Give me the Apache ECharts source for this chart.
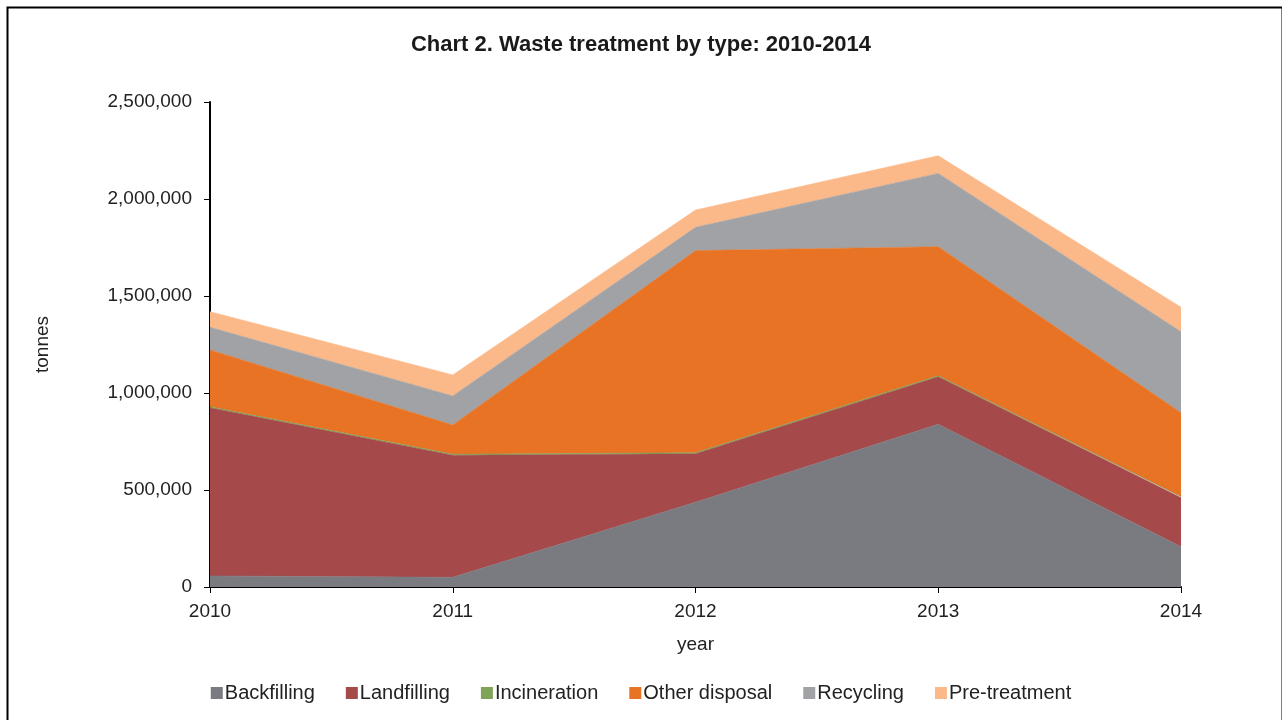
<!DOCTYPE html>
<html>
<head>
<meta charset="utf-8">
<script src="https://cdn.jsdelivr.net/npm/echarts@6/dist/echarts.min.js"></script>
<style>
html,body{margin:0;padding:0;background:#fff;}
#chart{width:1282px;height:720px;}
</style>
</head>
<body>
<div id="chart"></div>
<script>
const years = ['2010', '2011', '2012', '2013', '2014'];
const backfilling = [57000, 50000, 437000, 839000, 208000];
const landfilling = [867000, 629000, 250000, 245000, 252000];
const incineration = [5000, 5000, 5000, 5000, 5000];
const otherDisposal = [293000, 151000, 1042000, 665000, 433000];
const recycling = [117000, 150000, 120000, 378000, 418000];
const preTreatment = [80000, 108000, 89000, 91000, 126000];
const yTicks = [0, 500000, 1000000, 1500000, 2000000, 2500000];

const font = '"Liberation Sans", Arial, sans-serif';
const chart = echarts.init(document.getElementById('chart'));

function area(name, data, color) {
  return {
    name: name, type: 'line', stack: 'total', data: data,
    showSymbol: false, symbol: 'none',
    lineStyle: { width: 0.6, color: color },
    areaStyle: { color: color, opacity: 1 },
    itemStyle: { color: color },
    emphasis: { disabled: true }
  };
}

chart.setOption({
  animation: false,
  backgroundColor: '#fff',
  graphic: [{
    type: 'rect', left: 5, top: 5,
    shape: { width: 1275, height: 720 },
    style: { fill: 'none', stroke: '#000', lineWidth: 2 }
  }],
  title: {
    text: 'Chart 2. Waste treatment by type: 2010-2014',
    left: 'center', top: 29,
    textStyle: { fontFamily: font, fontSize: 22, fontWeight: 'bold', color: '#1a1a1a' }
  },
  grid: { left: 210, right: 101, top: 102, bottom: 133 },
  legend: {
    top: 678, left: 'center',
    itemWidth: 12, itemHeight: 12, itemGap: 31,
    icon: 'rect',
    textStyle: { fontFamily: font, fontSize: 20, color: '#222', padding: [0, 0, 0, -3] },
    data: ['Backfilling', 'Landfilling', 'Incineration', 'Other disposal', 'Recycling', 'Pre-treatment']
  },
  xAxis: {
    type: 'category', data: years, boundaryGap: false,
    name: 'year', nameLocation: 'middle', nameGap: 48,
    nameTextStyle: { fontFamily: font, fontSize: 19, color: '#222' },
    axisLine: { lineStyle: { color: '#000', width: 2 } },
    axisTick: { show: true, alignWithLabel: true, length: 6, lineStyle: { color: '#000', width: 1 } },
    axisLabel: { fontFamily: font, fontSize: 19, color: '#222', margin: 15 },
    splitLine: { show: false }
  },
  yAxis: {
    type: 'value', min: 0, max: 2500000, interval: 500000,
    name: 'tonnes', nameLocation: 'middle', nameGap: 158, nameRotate: 90,
    nameTextStyle: { fontFamily: font, fontSize: 19, color: '#222' },
    axisLine: { show: true, lineStyle: { color: '#000', width: 2 } },
    axisTick: { show: true, length: 6, lineStyle: { color: '#000', width: 1 } },
    axisLabel: {
      fontFamily: font, fontSize: 19, color: '#222', margin: 18,
      formatter: function (v) { return yTicks.indexOf(v) >= 0 ? v.toLocaleString('en-US') : ''; }
    },
    splitLine: { show: false }
  },
  series: [
    area('Backfilling', backfilling, '#7a7b80'),
    area('Landfilling', landfilling, '#a5494b'),
    area('Incineration', incineration, '#7fa459'),
    area('Other disposal', otherDisposal, '#e87324'),
    area('Recycling', recycling, '#a0a2a6'),
    area('Pre-treatment', preTreatment, '#fbb98a')
  ]
});
</script>
</body>
</html>
